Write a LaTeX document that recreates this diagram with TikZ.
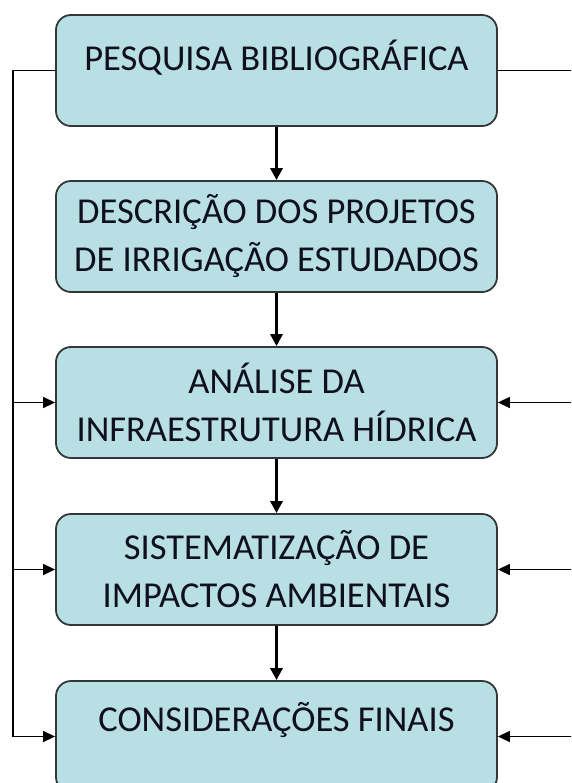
\documentclass[tikz,border=0pt]{standalone}
\usepackage{fontspec}
\setmainfont{Carlito}
\usetikzlibrary{arrows.meta}
\definecolor{boxfill}{RGB}{184,223,227}
\definecolor{boxline}{RGB}{50,55,55}
\definecolor{txt}{RGB}{15,15,30}
\tikzset{
  stagebox/.style={draw=boxline, line width=1.8pt, fill=boxfill, rounded corners=15pt,
    minimum width=441pt, minimum height=111pt, inner sep=0pt,
    font=\fontsize{36.5}{48}\selectfont, text=txt, align=center},
  stagetext/.style={font=\fontsize{36.5}{48}\selectfont, text=txt, inner sep=0pt},
  flow/.style={line width=3pt, -{Triangle[length=12pt,width=12pt]}},
  side/.style={line width=1.4pt, -{Triangle[length=12pt,width=11pt]}},
  sideline/.style={line width=1.4pt}
}
\begin{document}
\begin{tikzpicture}[x=1pt,y=-1pt]
\useasboundingbox (0,0) rectangle (571,783);
\clip (0,0) rectangle (571,783);
\node[stagebox] (b1) at (276.5,70.5) {};
\node[stagetext] (t1) at (276.5,58) {PESQUISA BIBLIOGRÁFICA};
\node[stagebox] (b2) at (276.5,236.5) {DESCRIÇÃO DOS PROJETOS\\DE IRRIGAÇÃO ESTUDADOS};
\node[stagebox] (b3) at (276.5,402.5) {ANÁLISE DA\\INFRAESTRUTURA HÍDRICA};
\node[stagebox] (b4) at (276.5,569.5) {SISTEMATIZAÇÃO DE\\IMPACTOS AMBIENTAIS};
\node[stagebox] (b5) at (276.5,736.5) {};
\node[stagetext] (t5) at (276.5,720) {CONSIDERAÇÕES FINAIS};
% vertical flow
\draw[flow] (b1.south) -- (b2.north);
\draw[flow] (b2.south) -- (b3.north);
\draw[flow] (b3.south) -- (b4.north);
\draw[flow] (b4.south) -- (b5.north);
% left feedback
\coordinate (lt) at (13,70.5);
\coordinate (l3) at (13,402.5);
\coordinate (l4) at (13,569.5);
\coordinate (l5) at (13,736.5);
\draw[sideline] (b1.west) -- (lt) -- (l5);
\draw[side] (l3) -- (b3.west);
\draw[side] (l4) -- (b4.west);
\draw[side] (l5) -- (b5.west);
% right feedback
\coordinate (rt) at (572,70.5);
\coordinate (r3) at (572,402.5);
\coordinate (r4) at (572,569.5);
\coordinate (r5) at (572,736.5);
\draw[sideline] (b1.east) -- (rt);
\draw[side] (r3) -- (b3.east);
\draw[side] (r4) -- (b4.east);
\draw[side] (r5) -- (b5.east);
\end{tikzpicture}
\end{document}
